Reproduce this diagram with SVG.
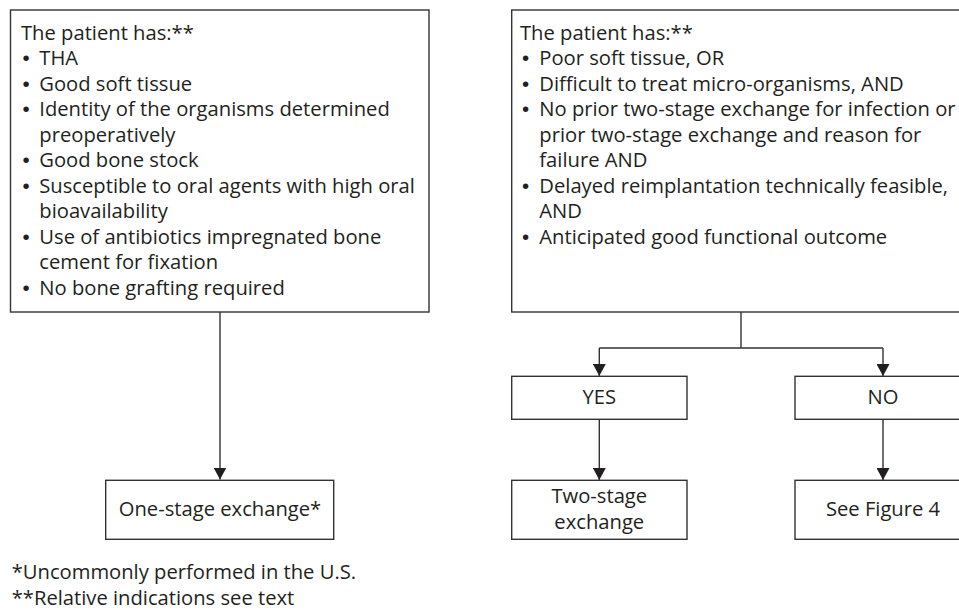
<svg xmlns="http://www.w3.org/2000/svg" width="959" height="610" viewBox="0 0 959 610">
<style>
.box{fill:#fff;stroke:#333;stroke-width:1.4}
.t{font-family:"Open Sans","Noto Sans",sans-serif;font-size:20.2px;fill:#231f20}
.b{font-family:"Liberation Sans",Arial,sans-serif;font-size:20.5px;fill:#231f20;text-anchor:middle}
.c{text-anchor:middle}
.ln{fill:none;stroke:#333;stroke-width:1.4}
</style>
<defs>
<marker id="ah" viewBox="0 0 12 13" refX="12" refY="6.5" markerWidth="12" markerHeight="13" markerUnits="userSpaceOnUse" orient="auto">
<path d="M0,0 L12,6.5 L0,13 Z" fill="#231f20"/>
</marker>
</defs>
<rect width="959" height="610" fill="#fff"/>
<g id="connectors">
<path class="ln" d="M220,312 V479.5" marker-end="url(#ah)"/>
<path class="ln" d="M741,312 V348 M599.3,348 H883"/>
<path class="ln" d="M599.3,348 V376" marker-end="url(#ah)"/>
<path class="ln" d="M883,348 V376" marker-end="url(#ah)"/>
<path class="ln" d="M599.3,419.3 V480" marker-end="url(#ah)"/>
<path class="ln" d="M883,419.3 V480" marker-end="url(#ah)"/>
</g>
<g id="left-criteria">
<rect class="box" x="10.5" y="10" width="418.5" height="302"/>
<text class="t" x="21" y="39.5">The patient has:**</text>
<g class="b">
<text x="26" y="65">•</text>
<text x="26" y="90.5">•</text>
<text x="26" y="116">•</text>
<text x="26" y="167">•</text>
<text x="26" y="192.5">•</text>
<text x="26" y="243.5">•</text>
<text x="26" y="294.5">•</text>
</g>
<g class="t">
<text x="39.3" y="65">THA</text>
<text x="39.3" y="90.5">Good soft tissue</text>
<text x="39.3" y="116">Identity of the organisms determined</text>
<text x="39.3" y="141.5">preoperatively</text>
<text x="39.3" y="167">Good bone stock</text>
<text x="39.3" y="192.5">Susceptible to oral agents with high oral</text>
<text x="39.3" y="218">bioavailability</text>
<text x="39.3" y="243.5">Use of antibiotics impregnated bone</text>
<text x="39.3" y="269">cement for fixation</text>
<text x="39.3" y="294.5">No bone grafting required</text>
</g>
</g>
<g id="right-criteria">
<rect class="box" x="511.7" y="10" width="460" height="302"/>
<text class="t" x="520" y="39.5">The patient has:**</text>
<g class="b">
<text x="525.5" y="65">•</text>
<text x="525.5" y="90.5">•</text>
<text x="525.5" y="116">•</text>
<text x="525.5" y="192.5">•</text>
<text x="525.5" y="243.5">•</text>
</g>
<g class="t">
<text x="539.3" y="65">Poor soft tissue, OR</text>
<text x="539.3" y="90.5">Difficult to treat micro-organisms, AND</text>
<text x="539.3" y="116">No prior two-stage exchange for infection or</text>
<text x="539.3" y="141.5">prior two-stage exchange and reason for</text>
<text x="539.3" y="167">failure AND</text>
<text x="539.3" y="192.5">Delayed reimplantation technically feasible,</text>
<text x="539.3" y="218">AND</text>
<text x="539.3" y="243.5">Anticipated good functional outcome</text>
</g>
</g>
<g id="one-stage">
<rect class="box" x="105.7" y="480.3" width="228" height="59"/>
<text class="t c" x="220" y="516">One-stage exchange*</text>
</g>
<g id="yes">
<rect class="box" x="511.7" y="376.3" width="175.3" height="43"/>
<text class="t c" x="599.3" y="403.5">YES</text>
</g>
<g id="no">
<rect class="box" x="795" y="376.3" width="180" height="43"/>
<text class="t c" x="883" y="403.5">NO</text>
</g>
<g id="two-stage">
<rect class="box" x="511.7" y="480.3" width="175.3" height="59"/>
<text class="t c" x="599.3" y="502.7">Two-stage</text>
<text class="t c" x="599.3" y="528.7">exchange</text>
</g>
<g id="see-figure">
<rect class="box" x="795" y="480.3" width="180" height="59"/>
<text class="t c" x="883" y="516">See Figure 4</text>
</g>
<g id="footnotes" class="t">
<text x="11.7" y="579.3">*Uncommonly performed in the U.S.</text>
<text x="11.7" y="605">**Relative indications see text</text>
</g>
</svg>
